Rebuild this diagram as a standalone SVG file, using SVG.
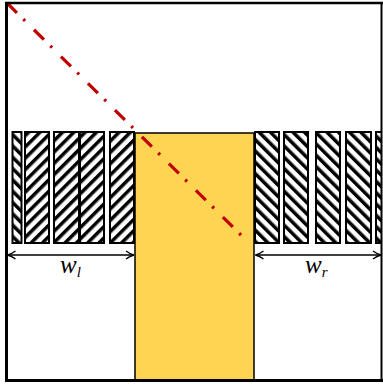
<svg xmlns="http://www.w3.org/2000/svg" width="383" height="384" viewBox="0 0 383 384">
<defs>
<pattern id="hl" patternUnits="userSpaceOnUse" width="8" height="8" patternTransform="rotate(45)">
<rect x="0" y="0" width="3.5" height="8" fill="#000"/>
</pattern>
<pattern id="hr" patternUnits="userSpaceOnUse" width="8" height="8" patternTransform="rotate(-45)">
<rect x="0" y="0" width="3.5" height="8" fill="#000"/>
</pattern>
<marker id="ah" viewBox="0 0 10 10" refX="9" refY="5" markerWidth="10" markerHeight="10" markerUnits="userSpaceOnUse" orient="auto-start-reverse">
<path d="M1,1 Q5,4 9,5 Q5,6 1,9" fill="none" stroke="#000" stroke-width="1.3"/>
</marker>
<clipPath id="frame"><rect x="6" y="3" width="376" height="378"/></clipPath>
</defs>
<style>
.hlr{fill:url(#hl);stroke:#000;stroke-width:2}
.hrr{fill:url(#hr);stroke:#000;stroke-width:2}
.dim{stroke:#000;stroke-width:1.3;fill:none}
.lbl{font-family:"Liberation Serif","DejaVu Serif",serif;font-style:italic;fill:#000}
</style>
<rect x="0" y="0" width="383" height="384" fill="#fff"/>
<g id="strips-left">
<rect class="hrr" x="12.5" y="132" width="9" height="111"/>
<rect class="hlr" x="25" y="132" width="24" height="111"/>
<rect class="hlr" x="54" y="132" width="25" height="111"/>
<rect class="hlr" x="80" y="132" width="24" height="111"/>
<rect class="hlr" x="110" y="132" width="24" height="111"/>
</g>
<g id="strips-right" clip-path="url(#frame)">
<rect class="hrr" x="255" y="132" width="24" height="111"/>
<rect class="hrr" x="284" y="132" width="24" height="111"/>
<rect class="hrr" x="316" y="132" width="24" height="111"/>
<rect class="hrr" x="346" y="132" width="25" height="111"/>
<rect class="hrr" x="376" y="132" width="12" height="111"/>
</g>
<g id="core">
<rect x="135" y="133" width="119" height="248" fill="#FFD452" stroke="#000" stroke-width="1.5"/>
</g>
<g id="connectors">
<line x1="7" y1="3" x2="247" y2="241" stroke="#C00000" stroke-width="3.2" stroke-dasharray="14 9 2.5 12.5"/>
<line class="dim" x1="7.5" y1="255" x2="134" y2="255" marker-start="url(#ah)" marker-end="url(#ah)"/>
<line class="dim" x1="255.5" y1="255" x2="381" y2="255" marker-start="url(#ah)" marker-end="url(#ah)"/>
</g>
<g id="labels">
<text class="lbl" x="60" y="273" font-size="25">w<tspan font-size="15" dy="4">l</tspan></text>
<text class="lbl" x="305" y="273" font-size="25">w<tspan font-size="15" dy="4">r</tspan></text>
</g>
<g id="frame-border" stroke="#000" fill="none">
<path d="M6.5,2 V381" stroke-width="3"/>
<path d="M5,3 H383" stroke-width="2.5"/>
<path d="M5,380.5 H383" stroke-width="3"/>
<path d="M381.5,2 V382" stroke-width="2"/>
</g>
</svg>
